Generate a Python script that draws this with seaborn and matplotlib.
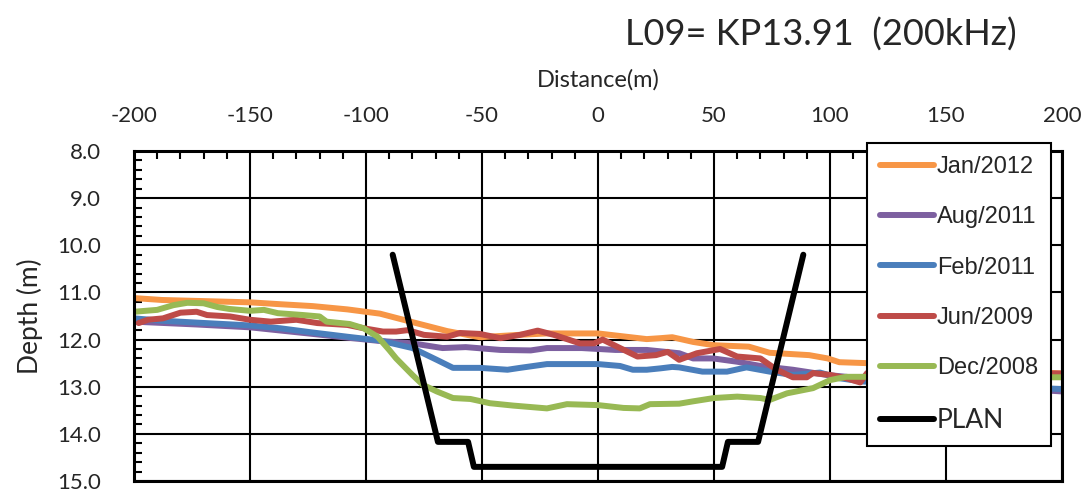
import matplotlib
matplotlib.use("Agg")
import matplotlib.pyplot as plt
from matplotlib.ticker import MultipleLocator, FormatStrFormatter
import pandas as pd
import seaborn as sns

# ---- survey profiles: distance from centreline (m) vs depth (m) ----
jan2012_x = [-200, -188, -173, -150, -137, -123, -108, -94, -80, -65, -51, -34, -22, 0,
             14, 21, 27, 32, 41, 50, 65, 74, 91, 99, 104, 116, 140, 170, 200]
jan2012_y = [11.12, 11.16, 11.18, 11.21, 11.25, 11.29, 11.36, 11.45, 11.63, 11.82, 11.95,
             11.90, 11.87, 11.87, 11.95, 11.99, 11.97, 11.95, 12.05, 12.12, 12.15, 12.28,
             12.33, 12.40, 12.48, 12.50, 12.55, 12.65, 12.72]

aug2011_x = [-200, -173, -150, -123, -108, -94, -80, -67, -57, -42, -29, -22, -7, 7.5, 21,
             35, 41, 49.6, 60, 70, 84, 98.7, 107, 116, 150, 200]
aug2011_y = [11.62, 11.68, 11.74, 11.88, 11.96, 12.03, 12.08, 12.18, 12.16, 12.22, 12.23,
             12.18, 12.18, 12.22, 12.22, 12.29, 12.40, 12.40, 12.47, 12.56, 12.64, 12.75,
             12.79, 12.84, 12.95, 13.10]

feb2011_x = [-200, -188, -173, -150, -137, -123, -108, -94, -87, -80, -69.5, -62.5, -51,
             -39, -33.6, -22, 0, 9.5, 15, 21, 27, 32, 35, 45, 55.6, 64, 74, 84, 95.7, 104,
             114, 150, 200]
feb2011_y = [11.55, 11.60, 11.64, 11.70, 11.76, 11.85, 11.94, 12.02, 12.10, 12.18, 12.43,
             12.60, 12.60, 12.64, 12.60, 12.52, 12.52, 12.56, 12.64, 12.64, 12.61, 12.58,
             12.59, 12.68, 12.68, 12.59, 12.68, 12.75, 12.70, 12.82, 12.89, 12.95, 13.05]

jun2009_x = [-198, -194, -187.5, -180, -173, -168.5, -158.6, -150, -141, -130, -121, -108,
             -101, -92.7, -87, -82, -75, -65, -59.5, -51, -42, -33.6, -26, -19, -7.8, -1.7,
             2, 9.5, 17, 25, 30, 35, 42.6, 52.6, 60, 70, 77, 84, 90, 92.7, 100, 107, 113,
             116, 150, 200]
jun2009_y = [11.65, 11.58, 11.55, 11.43, 11.41, 11.48, 11.51, 11.58, 11.62, 11.58, 11.65,
             11.69, 11.76, 11.83, 11.83, 11.80, 11.90, 11.94, 11.86, 11.88, 11.97, 11.90,
             11.81, 11.90, 12.08, 12.08, 12.00, 12.18, 12.36, 12.33, 12.26, 12.43, 12.29,
             12.20, 12.36, 12.40, 12.64, 12.80, 12.80, 12.71, 12.75, 12.82, 12.91, 12.71,
             12.70, 12.72]

dec2008_x = [-200, -190, -183, -177, -170, -164, -159, -150, -144, -138, -127, -120, -117,
             -107, -101, -95, -90, -87, -80, -75.5, -69.5, -62.5, -55, -46.6, -36.6, -22,
             -13.4, 0, 11, 18, 22.4, 35, 41, 50, 60, 70, 74, 81.5, 92.7, 100, 107, 116,
             150, 200]
dec2008_y = [11.41, 11.37, 11.27, 11.22, 11.23, 11.31, 11.35, 11.39, 11.37, 11.44, 11.48,
             11.51, 11.62, 11.67, 11.76, 11.94, 12.22, 12.40, 12.75, 12.96, 13.10, 13.24,
             13.26, 13.35, 13.40, 13.46, 13.37, 13.39, 13.45, 13.46, 13.37, 13.36, 13.31,
             13.24, 13.21, 13.24, 13.28, 13.14, 13.03, 12.86, 12.79, 12.79, 12.80, 12.80]

# design dredged channel profile
plan_x = [-88.5, -69, -56, -53.5, 53.5, 56, 69, 88.5]
plan_y = [10.2, 14.17, 14.17, 14.7, 14.7, 14.17, 14.17, 10.2]

labels = ["Jan/2012", "Aug/2011", "Feb/2011", "Jun/2009", "Dec/2008", "PLAN"]
colors = ["#F79646", "#7D60A0", "#4A7EBB", "#BE4B48", "#98B954", "#000000"]
xs = [jan2012_x, aug2011_x, feb2011_x, jun2009_x, dec2008_x, plan_x]
ys = [jan2012_y, aug2011_y, feb2011_y, jun2009_y, dec2008_y, plan_y]

df = pd.concat(
    [pd.DataFrame({"Distance": x, "Depth": y, "Survey": lab}) for x, y, lab in zip(xs, ys, labels)],
    ignore_index=True,
)

sns.set_style("white")
plt.rcParams["font.family"] = ["Lato", "DejaVu Sans"]

W, H = 1089, 495
fig = plt.figure(figsize=(W / 100, H / 100), dpi=100)
ax = fig.add_axes([134 / W, 1 - 481 / H, 928 / W, 330 / H])

for lab, col in zip(labels, colors):
    sub = df[df["Survey"] == lab]
    sns.lineplot(data=sub, x="Distance", y="Depth", color=col, label=lab,
                 estimator=None, sort=False, linewidth=4.3, ax=ax,
                 solid_capstyle="round", solid_joinstyle="round")

ax.set_xlim(-200, 200)
ax.set_ylim(15, 8)
ax.xaxis.set_major_locator(MultipleLocator(50))
ax.xaxis.set_minor_locator(MultipleLocator(10))
ax.yaxis.set_major_locator(MultipleLocator(1))
ax.yaxis.set_minor_locator(MultipleLocator(0.2))
ax.yaxis.set_major_formatter(FormatStrFormatter("%.1f"))
ax.xaxis.set_major_formatter(FormatStrFormatter("%d"))

ax.xaxis.tick_top()
ax.xaxis.set_label_position("top")
ax.tick_params(axis="x", which="both", direction="in", top=True, bottom=False,
               labelsize=16, pad=18, color="black")
ax.tick_params(axis="y", which="both", direction="in", left=True, right=False,
               labelsize=16, pad=24, color="black")
ax.tick_params(which="major", length=0)
ax.tick_params(which="minor", length=6, width=1.5)

ax.grid(True, which="major", color="black", linewidth=1.5)
ax.set_axisbelow(True)
for s in ax.spines.values():
    s.set_color("black")
    s.set_linewidth(2.2)

ax.set_xlabel("Distance(m)", fontsize=17, labelpad=14)
ax.set_ylabel("Depth (m)", fontsize=19, labelpad=10)

fig.text(821 / W, 1 - 35 / H, "L09= KP13.91  (200kHz)", ha="center", va="center", fontsize=26)

leg = ax.legend(loc="upper left", bbox_to_anchor=(867 / W, 1 - 143 / H),
                bbox_transform=fig.transFigure, frameon=True, fancybox=False,
                framealpha=1, edgecolor="black",
                prop={"family": "Liberation Sans", "size": 17},
                handlelength=2.3, handletextpad=0.1, labelspacing=1.2,
                borderpad=0.55, borderaxespad=0)
leg.get_frame().set_linewidth(1.5)
leg.set_zorder(10)
leg.get_texts()[-1].set_fontfamily("Lato")
leg.get_texts()[-1].set_fontsize(19)

fig.savefig("out.png", dpi=100)
